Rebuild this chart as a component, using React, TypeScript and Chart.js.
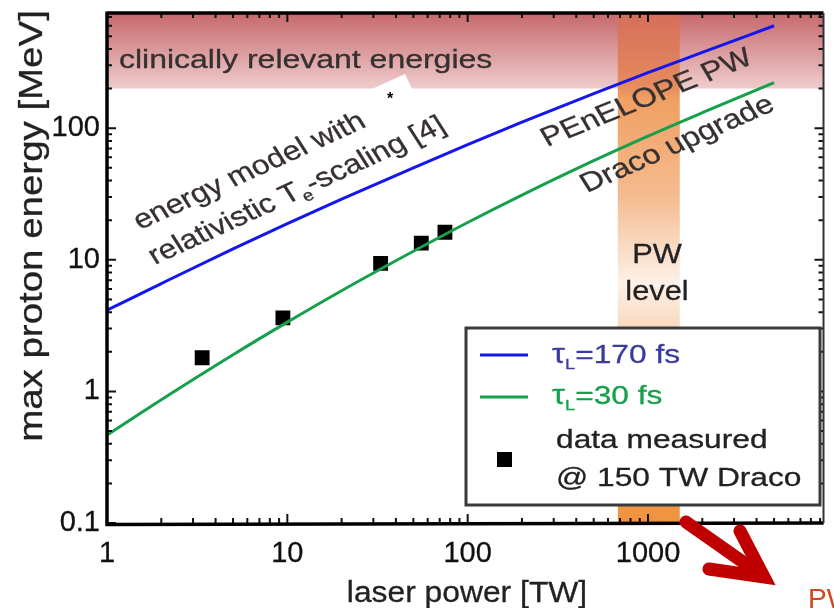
import React, { useEffect, useRef } from 'react';
import { Chart, registerables } from 'chart.js';
Chart.register(...registerables);

const FONT = '"Liberation Sans", Arial, Helvetica, sans-serif';

// laser power [TW] vs max proton energy [MeV]
const blueX = [1, 2, 5, 10, 20, 50, 100, 200, 500, 1000, 2000, 5000];
const blueY = [4.14, 6.6, 12.1, 18.8, 28.9, 50, 75, 111, 183, 264, 376, 600];
const greenX = [1, 2, 5, 10, 20, 50, 100, 200, 500, 1000, 2000, 5000];
const greenY = [0.466, 0.865, 1.9, 3.36, 5.82, 11.6, 19.2, 31, 56.6, 87, 131, 222];
const measuredX = [3.37, 9.45, 32.9, 55.3, 74.8];
const measuredY = [1.8, 3.62, 9.4, 13.4, 16.2];
const xTickLabels = [1, 10, 100, 1000];
const yTickLabels = [0.1, 1, 10, 100];
const xRange = [1, 9400];
const yRange = [0.1, 750];
const clinicalRange = [200, 750];
const pwRange = [680, 1500];

type Part = { text: string; size: number; dy?: number };

function drawStretched(ctx: CanvasRenderingContext2D, parts: Part[], x: number, y: number, imgDeg: number, sx: number, color: string, align: 'left' | 'center' = 'left', stroke = 0.3) {
  ctx.save();
  ctx.translate(x, y);
  ctx.scale(sx, 1);
  const t = Math.atan(Math.tan((imgDeg * Math.PI) / 180) * sx);
  ctx.rotate(t);
  ctx.fillStyle = color;
  ctx.strokeStyle = color;
  ctx.lineWidth = stroke;
  ctx.lineJoin = 'round';
  ctx.textBaseline = 'alphabetic';
  ctx.textAlign = 'left';
  let total = 0;
  for (const p of parts) {
    ctx.font = `${p.size}px ${FONT}`;
    total += ctx.measureText(p.text).width;
  }
  let cx = align === 'center' ? -total / 2 : 0;
  for (const p of parts) {
    ctx.font = `${p.size}px ${FONT}`;
    ctx.fillText(p.text, cx, p.dy || 0);
    if (stroke > 0) ctx.strokeText(p.text, cx, p.dy || 0);
    cx += ctx.measureText(p.text).width;
  }
  ctx.restore();
}

const isLabel = (v: number, list: number[]) => list.some((l) => Math.abs(Math.log10(v) - Math.log10(l)) < 1e-6);

const bandsPlugin = {
  id: 'bands',
  beforeDatasetsDraw(chart: any) {
    const { ctx, chartArea, scales } = chart;
    const { left, right, top, bottom } = chartArea;
    const xs = scales.x, ys = scales.y;
    ctx.save();
    const yc = ys.getPixelForValue(clinicalRange[0]);
    const yt = Math.max(top, ys.getPixelForValue(clinicalRange[1]));
    let g = ctx.createLinearGradient(0, yt, 0, yc);
    g.addColorStop(0, '#c6686c');
    g.addColorStop(1, '#efcccc');
    ctx.fillStyle = g;
    ctx.fillRect(left, yt, right - left, yc - yt);
    const x0 = xs.getPixelForValue(pwRange[0]);
    const x1 = xs.getPixelForValue(pwRange[1]);
    g = ctx.createLinearGradient(0, top, 0, bottom);
    g.addColorStop(0, '#d46e5a');
    g.addColorStop(0.14, '#e58a5e');
    g.addColorStop(0.17, '#f0a062');
    g.addColorStop(0.36, '#f5bb90');
    g.addColorStop(0.53, '#fdf1e8');
    g.addColorStop(0.68, '#f8c8a0');
    g.addColorStop(1, '#f0913c');
    ctx.fillStyle = g;
    ctx.fillRect(x0, top, x1 - x0, bottom - top);
    ctx.restore();
  },
};

const framePlugin = {
  id: 'frame',
  afterDatasetsDraw(chart: any) {
    const { ctx, chartArea, scales } = chart;
    const { left, right, top, bottom } = chartArea;
    const xs = scales.x, ys = scales.y;
    ctx.save();
    ctx.strokeStyle = '#111';
    ctx.lineWidth = 2;
    ctx.beginPath();
    for (let d = -1; d <= 4; d++) {
      for (let m = 1; m <= 9; m++) {
        const v = m * Math.pow(10, d);
        const len = m === 1 ? 9 : 5;
        if (v >= xRange[0] && v <= xRange[1]) {
          const px = xs.getPixelForValue(v);
          ctx.moveTo(px, bottom); ctx.lineTo(px, bottom - len);
          ctx.moveTo(px, top); ctx.lineTo(px, top + len);
        }
        if (v >= yRange[0] && v <= yRange[1]) {
          const py = ys.getPixelForValue(v);
          ctx.moveTo(left, py); ctx.lineTo(left + len, py);
          ctx.moveTo(right, py); ctx.lineTo(right - len, py);
        }
      }
    }
    ctx.stroke();
    ctx.strokeStyle = '#000';
    ctx.lineWidth = 3.5;
    ctx.beginPath();
    ctx.moveTo(left, top - 1.5); ctx.lineTo(left, bottom + 1.5);
    ctx.lineTo(right, bottom);
    ctx.moveTo(left, top); ctx.lineTo(right, top);
    ctx.stroke();
    ctx.strokeStyle = '#333';
    ctx.lineWidth = 2;
    ctx.beginPath();
    ctx.moveTo(right, top); ctx.lineTo(right, bottom);
    ctx.stroke();
    ctx.restore();
  },
};

const annotPlugin = {
  id: 'annot',
  afterDraw(chart: any) {
    const { ctx } = chart;
    const ds = chart.data.datasets;
    ctx.save();
    // white patch and asterisk
    ctx.fillStyle = '#fff';
    ctx.beginPath();
    ctx.moveTo(372, 89); ctx.lineTo(405, 74); ctx.lineTo(420, 106); ctx.lineTo(387, 121);
    ctx.closePath();
    ctx.fill();
    ctx.fillStyle = '#000';
    ctx.font = `bold 16px ${FONT}`;
    ctx.textAlign = 'center';
    ctx.fillText('*', 390, 104);

    const tc = '#363030';
    drawStretched(ctx, [{ text: 'clinically relevant energies', size: 26 }], 119, 68, 0, 1.23, tc);
    drawStretched(ctx, [{ text: 'energy model with', size: 27 }], 140, 230, -24.5, 1.18, tc);
    drawStretched(ctx, [
      { text: 'relativistic T', size: 27 },
      { text: 'e', size: 16, dy: 6 },
      { text: '-scaling [4]', size: 27 },
    ], 155, 265, -24.7, 1.18, tc);
    drawStretched(ctx, [{ text: 'PEnELOPE PW', size: 27 }], 547, 147, -22, 1.2, tc);
    drawStretched(ctx, [{ text: 'Draco upgrade', size: 27 }], 587, 193, -23.8, 1.2, tc);
    drawStretched(ctx, [{ text: 'PW', size: 28 }], 657, 263, 0, 1.1, '#222', 'center');
    drawStretched(ctx, [{ text: 'level', size: 28 }], 657, 300, 0, 1.1, '#222', 'center');

    // axis titles
    drawStretched(ctx, [{ text: 'laser power [TW]', size: 30 }], 467, 602, 0, 1.06, '#222', 'center');
    ctx.save();
    ctx.translate(42, 226);
    ctx.rotate(-Math.PI / 2);
    ctx.scale(1.165, 1);
    ctx.font = `33px ${FONT}`;
    ctx.fillStyle = '#222';
    ctx.strokeStyle = '#222';
    ctx.lineWidth = 0.3;
    ctx.textAlign = 'center';
    ctx.textBaseline = 'alphabetic';
    ctx.fillText('max proton energy [MeV]', 0, 0);
    ctx.strokeText('max proton energy [MeV]', 0, 0);
    ctx.restore();

    // legend
    ctx.fillStyle = '#fff';
    ctx.fillRect(466, 328, 354, 177);
    ctx.strokeStyle = '#3a3a3a';
    ctx.lineWidth = 3;
    ctx.strokeRect(466, 328, 354, 177);
    ctx.lineWidth = 3;
    ctx.strokeStyle = ds[0].borderColor;
    ctx.beginPath(); ctx.moveTo(480, 355); ctx.lineTo(528, 355); ctx.stroke();
    ctx.strokeStyle = ds[1].borderColor;
    ctx.beginPath(); ctx.moveTo(480, 397); ctx.lineTo(528, 397); ctx.stroke();
    drawStretched(ctx, [{ text: 'τ', size: 27 }, { text: 'L', size: 15, dy: 6 }, { text: '=170 fs', size: 26 }], 552, 363, 0, 1.22, '#3b3b9c');
    drawStretched(ctx, [{ text: 'τ', size: 27 }, { text: 'L', size: 15, dy: 6 }, { text: '=30 fs', size: 26 }], 552, 404, 0, 1.22, '#17a04c');
    ctx.fillStyle = ds[2].backgroundColor;
    ctx.fillRect(497, 452, 15, 15);
    drawStretched(ctx, [{ text: 'data measured', size: 26 }], 556, 448, 0, 1.22, '#222');
    drawStretched(ctx, [{ text: '@ 150 TW Draco', size: 26 }], 556, 486, 0, 1.22, '#222');

    // red arrow
    ctx.strokeStyle = '#c00000';
    ctx.lineWidth = 13;
    ctx.lineCap = 'round';
    ctx.beginPath(); ctx.moveTo(686, 522); ctx.lineTo(760, 574); ctx.stroke();
    ctx.lineJoin = 'miter';
    ctx.beginPath(); ctx.moveTo(740, 531); ctx.lineTo(764, 577); ctx.lineTo(709, 569); ctx.stroke();
    ctx.fillStyle = '#d2461e';
    ctx.font = `28px ${FONT}`;
    ctx.textAlign = 'left';
    ctx.fillText('PW', 808, 608);
    ctx.restore();
  },
};

export default function App() {
  const ref = useRef<HTMLCanvasElement | null>(null);
  useEffect(() => {
    if (!ref.current) return;
    Chart.defaults.font.family = FONT;
    const chart = new Chart(ref.current, {
      type: 'scatter',
      data: {
        datasets: [
          {
            label: 'τL=170 fs',
            data: blueX.map((x, i) => ({ x, y: blueY[i] })),
            showLine: true,
            borderColor: '#1515ee',
            borderWidth: 3,
            pointRadius: 0,
            cubicInterpolationMode: 'monotone',
          },
          {
            label: 'τL=30 fs',
            data: greenX.map((x, i) => ({ x, y: greenY[i] })),
            showLine: true,
            borderColor: '#17a04c',
            borderWidth: 3,
            pointRadius: 0,
            cubicInterpolationMode: 'monotone',
          },
          {
            label: 'data measured @ 150 TW Draco',
            data: measuredX.map((x, i) => ({ x, y: measuredY[i] })),
            showLine: false,
            pointStyle: 'rect',
            pointRadius: 10.5,
            backgroundColor: '#000',
            borderColor: '#000',
            borderWidth: 0,
          },
        ],
      } as any,
      options: {
        animation: false,
        responsive: true,
        maintainAspectRatio: false,
        layout: { padding: { top: 13, right: 2, left: 0, bottom: 0 } },
        plugins: { legend: { display: false }, tooltip: { enabled: false } },
        scales: {
          x: {
            type: 'logarithmic',
            min: xRange[0],
            max: xRange[1],
            grid: { display: false, drawTicks: false },
            border: { display: false },
            afterFit: (s: any) => {
              s.height = 85;
              s.paddingLeft = 0; s.paddingRight = 0; s.paddingTop = 0; s.paddingBottom = 0;
            },
            ticks: {
              autoSkip: false,
              maxRotation: 0,
              padding: 14,
              color: '#111',
              textStrokeColor: '#111',
              textStrokeWidth: 0.3,
              font: { size: 29, family: FONT },
              callback: (v: any) => (isLabel(Number(v), xTickLabels) ? String(Number(v)) : ''),
            },
          },
          y: {
            type: 'logarithmic',
            min: yRange[0],
            max: yRange[1],
            grid: { display: false, drawTicks: false },
            border: { display: false },
            afterFit: (s: any) => {
              s.width = 107;
              s.paddingLeft = 0; s.paddingRight = 0; s.paddingTop = 0; s.paddingBottom = 0;
            },
            ticks: {
              autoSkip: false,
              padding: 7,
              color: '#111',
              textStrokeColor: '#111',
              textStrokeWidth: 0.3,
              font: { size: 29, family: FONT },
              callback: (v: any) => (isLabel(Number(v), yTickLabels) ? String(Number(v)) : ''),
            },
          },
        },
      } as any,
      plugins: [bandsPlugin, framePlugin, annotPlugin],
    });
    return () => chart.destroy();
  }, []);
  return (
    <div style={{ position: 'absolute', left: 0, top: 0, width: 834, height: 608 }}>
      <canvas ref={ref} />
    </div>
  );
}
